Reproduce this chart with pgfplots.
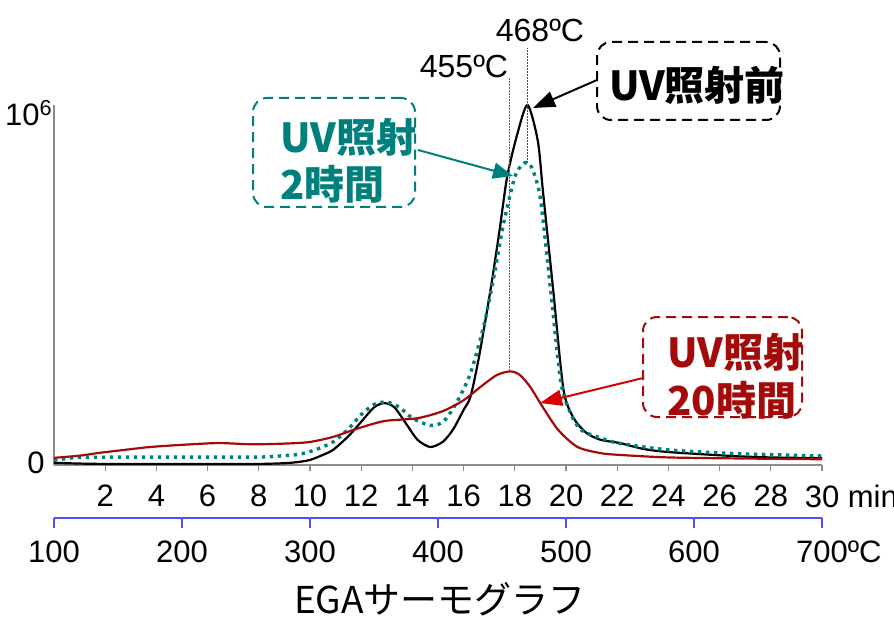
\documentclass[border=0pt]{standalone}
\usepackage{fontspec}
\setmainfont{Liberation Sans}
\newfontfamily\jp{Noto Sans CJK JP}
\usepackage{pgfplots}
\pgfplotsset{compat=1.18}
\usetikzlibrary{arrows.meta}
\definecolor{tealc}{RGB}{0,128,125}
\definecolor{dred}{RGB}{165,10,10}
\definecolor{bblue}{RGB}{80,80,255}
\begin{document}
\begin{tikzpicture}
\begin{axis}[
  at={(0,0)}, anchor=south west,
  scale only axis, width=384pt, height=180pt,
  xmin=0, xmax=30, ymin=0, ymax=1,
  axis x line*=bottom, axis y line*=left,
  axis line style={black!45, line width=0.8pt},
  xtick={2,4,...,30},
  xticklabels={2,4,6,8,10,12,14,16,18,20,22,24,26,28,{30\rlap{ min}}},
  ytick=\empty,
  tick align=outside, major tick length=3pt,
  tick style={black!45, line width=0.6pt},
  xticklabel style={font=\fontsize{15.5}{18}\selectfont, yshift=-3.5pt},
  /pgf/number format/assume math mode=true,
  clip=false,
]
% UV before (black)
\addplot[black, line width=1.1pt, smooth, tension=0.45] coordinates {
(0,0.006) (1,0.004) (2,0.003) (4,0.003) (6,0.003) (8,0.003) (9,0.005) (9.5,0.008)
(10,0.014) (10.5,0.028) (10.9,0.042) (11.5,0.08) (12,0.12) (12.5,0.16) (12.9,0.172)
(13.3,0.16) (13.8,0.11) (14.2,0.07) (14.7,0.05) (15.2,0.065) (15.6,0.1) (16.0,0.153)
(16.27,0.19) (16.6,0.30) (17.05,0.486) (17.4,0.65) (17.7,0.80) (18.1,0.92) (18.5,1.0)
(18.9,0.90) (19.1,0.76) (19.5,0.486) (19.9,0.21) (20.3,0.13) (20.8,0.089) (21.35,0.07)
(22.1,0.061) (23,0.045) (24,0.036) (26.5,0.025) (28,0.021) (30,0.019)};
% UV 2h (teal dotted)
\addplot[tealc, line width=1.7pt, dash pattern=on 1.7pt off 2.3pt, smooth, tension=0.45] coordinates {
(0,0.013) (0.5,0.018) (1,0.021) (3,0.022) (6,0.022) (8,0.022) (9,0.026) (9.6,0.03)
(10.2,0.042) (10.9,0.064) (11.5,0.10) (12,0.14) (12.5,0.168) (13.0,0.175) (13.5,0.16)
(14.0,0.13) (14.7,0.11) (15.2,0.12) (15.7,0.17) (16.27,0.255) (16.8,0.39) (17.2,0.53)
(17.56,0.67) (18.0,0.80) (18.3,0.835) (18.5,0.84) (18.7,0.82) (19.0,0.74) (19.4,0.486)
(19.8,0.23) (20.2,0.14) (20.6,0.097) (21.35,0.075) (22.1,0.06) (24,0.042) (26.5,0.032) (30,0.025)};
% UV 20h (dark red)
\addplot[dred, line width=1.1pt, smooth, tension=0.45] coordinates {
(0,0.02) (1,0.026) (1.8,0.034) (3,0.044) (3.75,0.05) (5,0.056) (6.4,0.061) (7.5,0.058)
(8.3,0.058) (9.2,0.06) (10,0.064) (10.9,0.078) (11.8,0.10) (12.9,0.122) (14.2,0.13)
(15.2,0.15) (16.0,0.18) (16.66,0.217) (17.3,0.25) (17.83,0.26) (18.2,0.25) (18.6,0.217)
(19.1,0.16) (19.7,0.097) (20.45,0.05) (21.35,0.033) (22.1,0.028) (24,0.021) (27,0.018) (30,0.016)};
% peak marker lines
\addplot[red!75!black!80, line width=0.7pt, dash pattern=on 1pt off 0.5pt] coordinates {(17.8,0.26) (17.8,1.075)};
\addplot[red, line width=0.7pt, dash pattern=on 1pt off 0.5pt] coordinates {(18.5,0.84) (18.5,1.158)};
\end{axis}
% y labels
\node[anchor=east, inner sep=0pt, font=\fontsize{15.5}{18}\selectfont] at (-4.5pt,1pt) {0};
\node[anchor=east, inner sep=0pt, font=\fontsize{15.5}{18}\selectfont] at (-0.5pt,176pt) {10\textsuperscript{6}};
% peak temperature labels
\node[font=\fontsize{16}{18}\selectfont] at (205pt,199.25pt) {455ºC};
\node[font=\fontsize{16}{18}\selectfont] at (243pt,217.5pt) {468ºC};
% black box
\node[draw=black, line width=1pt, dash pattern=on 5pt off 3pt, rounded corners=7pt,
  minimum width=91.5pt, minimum height=39pt] at (317.25pt,192pt) {};
\node[font=\jp\bfseries\fontsize{20}{23}\selectfont] at (321.5pt,190pt) {UV照射前};
\draw[-{Triangle[length=11pt,width=8pt]}, line width=1pt] (271.5pt,192.5pt) -- (239.5pt,178.5pt);
% teal box
\node[draw=tealc, line width=1pt, dash pattern=on 5pt off 3pt, rounded corners=7pt,
  minimum width=81pt, minimum height=54.5pt] at (140pt,156.25pt) {};
\node[anchor=west, inner sep=0pt, align=left, text=tealc, font=\jp\bfseries\fontsize{20}{23.5}\selectfont] at (113pt,152pt) {UV照射\\2時間};
\draw[tealc, -{Triangle[length=10pt,width=8pt]}, line width=1pt] (182pt,157.5pt) -- (229.5pt,144.5pt);
% red box
\node[draw=dred, line width=1pt, dash pattern=on 5pt off 3pt, rounded corners=7pt,
  minimum width=79.5pt, minimum height=50pt] at (334.25pt,49pt) {};
\node[anchor=west, inner sep=0pt, align=left, text=dred, font=\jp\bfseries\fontsize{20}{24}\selectfont] at (306.5pt,44.5pt) {UV照射\\20時間};
\draw[red!85!black, -{Triangle[length=11pt,width=8pt]}, line width=1pt] (294.5pt,43.5pt) -- (243pt,31pt);
% temperature axis
\draw[bblue, line width=1pt] (0pt,-26.5pt) -- (384pt,-26.5pt);
\foreach \T in {100,200,...,700} {
  \draw[bblue, line width=1pt] ({(\T-100)*0.64pt},-26.5pt) -- ({(\T-100)*0.64pt},-31.5pt);
}
\foreach \T in {100,200,...,600} {
  \node[font=\fontsize{15.5}{18}\selectfont] at ({(\T-100)*0.64pt},-43.5pt) {\T};
}
\node[font=\fontsize{15.5}{18}\selectfont] at (384pt,-43.5pt) {700\rlap{ºC}};
% title
\node[font=\jp\fontsize{18.5}{20}\selectfont] at (193pt,-67pt) {EGAサーモグラフ};
\path[use as bounding box] (-27pt,-76pt) rectangle (420pt,232.5pt);
\end{tikzpicture}
\end{document}
